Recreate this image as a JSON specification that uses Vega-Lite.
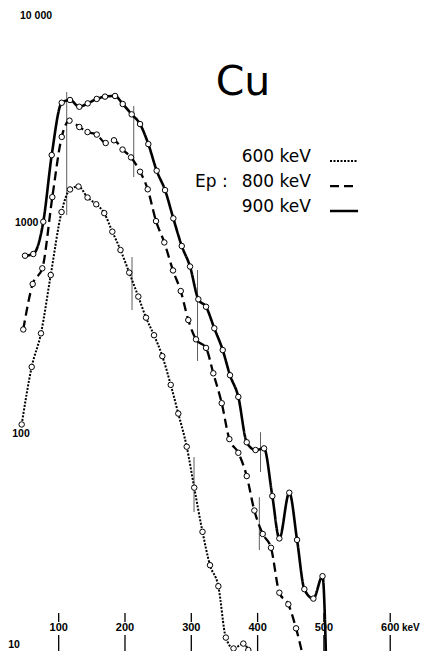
{
  "$schema": "https://vega.github.io/schema/vega-lite/v6.json",
  "width": 431,
  "height": 651,
  "autosize": {"type": "none"},
  "padding": 0,
  "background": "white",
  "config": {"view": {"stroke": null}},
  "datasets": {
    "curves": [
      {"series": "900 keV", "E": 49.2, "v": 700},
      {"series": "900 keV", "E": 61.7, "v": 713},
      {"series": "900 keV", "E": 76.8, "v": 1014},
      {"series": "900 keV", "E": 89.5, "v": 2099},
      {"series": "900 keV", "E": 104.6, "v": 3715},
      {"series": "900 keV", "E": 117.1, "v": 3828},
      {"series": "900 keV", "E": 131.1, "v": 3556},
      {"series": "900 keV", "E": 143.8, "v": 3690},
      {"series": "900 keV", "E": 157.4, "v": 3873},
      {"series": "900 keV", "E": 169.9, "v": 3972},
      {"series": "900 keV", "E": 185, "v": 4000},
      {"series": "900 keV", "E": 196.6, "v": 3664},
      {"series": "900 keV", "E": 210.1, "v": 3273},
      {"series": "900 keV", "E": 222.7, "v": 2944},
      {"series": "900 keV", "E": 235.2, "v": 2366},
      {"series": "900 keV", "E": 247.8, "v": 1770},
      {"series": "900 keV", "E": 260.4, "v": 1432},
      {"series": "900 keV", "E": 272.9, "v": 1052},
      {"series": "900 keV", "E": 285.6, "v": 778},
      {"series": "900 keV", "E": 298.1, "v": 622},
      {"series": "900 keV", "E": 310.6, "v": 435},
      {"series": "900 keV", "E": 322.2, "v": 401},
      {"series": "900 keV", "E": 334.7, "v": 317},
      {"series": "900 keV", "E": 347.4, "v": 250},
      {"series": "900 keV", "E": 358.4, "v": 190},
      {"series": "900 keV", "E": 370.9, "v": 150},
      {"series": "900 keV", "E": 383.6, "v": 91.4},
      {"series": "900 keV", "E": 396.9, "v": 84},
      {"series": "900 keV", "E": 409.7, "v": 85.5},
      {"series": "900 keV", "E": 422.2, "v": 50.8},
      {"series": "900 keV", "E": 432.8, "v": 32},
      {"series": "900 keV", "E": 447.8, "v": 52.7},
      {"series": "900 keV", "E": 459.5, "v": 31.5},
      {"series": "900 keV", "E": 470.5, "v": 18.4},
      {"series": "900 keV", "E": 484.1, "v": 16.6},
      {"series": "900 keV", "E": 497.9, "v": 21.2},
      {"series": "900 keV", "E": 505, "v": 5},
      {"series": "800 keV", "E": 46.6, "v": 313},
      {"series": "800 keV", "E": 60.8, "v": 514},
      {"series": "800 keV", "E": 75.3, "v": 610},
      {"series": "800 keV", "E": 90.4, "v": 1327},
      {"series": "800 keV", "E": 104.6, "v": 2559},
      {"series": "800 keV", "E": 116.3, "v": 3055},
      {"series": "800 keV", "E": 131.1, "v": 2851},
      {"series": "800 keV", "E": 143.5, "v": 2698},
      {"series": "800 keV", "E": 157.4, "v": 2625},
      {"series": "800 keV", "E": 170.9, "v": 2394},
      {"series": "800 keV", "E": 183.4, "v": 2466},
      {"series": "800 keV", "E": 196.3, "v": 2229},
      {"series": "800 keV", "E": 209.1, "v": 2047},
      {"series": "800 keV", "E": 222.7, "v": 1750},
      {"series": "800 keV", "E": 234.3, "v": 1445},
      {"series": "800 keV", "E": 246.8, "v": 1021},
      {"series": "800 keV", "E": 259.3, "v": 809},
      {"series": "800 keV", "E": 272.4, "v": 596},
      {"series": "800 keV", "E": 284.1, "v": 476},
      {"series": "800 keV", "E": 295.5, "v": 347},
      {"series": "800 keV", "E": 307.1, "v": 281},
      {"series": "800 keV", "E": 322.2, "v": 256},
      {"series": "800 keV", "E": 333.2, "v": 194},
      {"series": "800 keV", "E": 345.9, "v": 140},
      {"series": "800 keV", "E": 357.4, "v": 94.6},
      {"series": "800 keV", "E": 370.9, "v": 81.5},
      {"series": "800 keV", "E": 383.6, "v": 63.2},
      {"series": "800 keV", "E": 395.1, "v": 43.4},
      {"series": "800 keV", "E": 407.7, "v": 33.6},
      {"series": "800 keV", "E": 420.2, "v": 28.9},
      {"series": "800 keV", "E": 432.8, "v": 17.7},
      {"series": "800 keV", "E": 446.3, "v": 15.6},
      {"series": "800 keV", "E": 458, "v": 12.0},
      {"series": "800 keV", "E": 470, "v": 8.4},
      {"series": "600 keV", "E": 44.2, "v": 111},
      {"series": "600 keV", "E": 59.3, "v": 208},
      {"series": "600 keV", "E": 73.3, "v": 300},
      {"series": "600 keV", "E": 88, "v": 567},
      {"series": "600 keV", "E": 104.3, "v": 1127},
      {"series": "600 keV", "E": 117.1, "v": 1442},
      {"series": "600 keV", "E": 129.9, "v": 1489},
      {"series": "600 keV", "E": 143.5, "v": 1321},
      {"series": "600 keV", "E": 156.6, "v": 1227},
      {"series": "600 keV", "E": 168.7, "v": 1114},
      {"series": "600 keV", "E": 180.9, "v": 910},
      {"series": "600 keV", "E": 193.2, "v": 745},
      {"series": "600 keV", "E": 206.4, "v": 582},
      {"series": "600 keV", "E": 220.1, "v": 448},
      {"series": "600 keV", "E": 231.7, "v": 356},
      {"series": "600 keV", "E": 243.8, "v": 294},
      {"series": "600 keV", "E": 256.3, "v": 234},
      {"series": "600 keV", "E": 269, "v": 171},
      {"series": "600 keV", "E": 280.4, "v": 125},
      {"series": "600 keV", "E": 293.1, "v": 87.1},
      {"series": "600 keV", "E": 304.4, "v": 55.7},
      {"series": "600 keV", "E": 316.9, "v": 34.4},
      {"series": "600 keV", "E": 328.2, "v": 23.9},
      {"series": "600 keV", "E": 340.8, "v": 19.0},
      {"series": "600 keV", "E": 352.1, "v": 10.85},
      {"series": "600 keV", "E": 363.7, "v": 9.63},
      {"series": "600 keV", "E": 378.5, "v": 10.16},
      {"series": "600 keV", "E": 386, "v": 9.47}
    ],
    "bars": [
      {"E": 112.1, "lo": 1091, "hi": 4178},
      {"E": 213.2, "lo": 1652, "hi": 3589},
      {"E": 210.6, "lo": 387, "hi": 690},
      {"E": 309.4, "lo": 222, "hi": 599},
      {"E": 304.1, "lo": 42.7, "hi": 77.8},
      {"E": 404.4, "lo": 66.1, "hi": 102},
      {"E": 402.6, "lo": 28.2, "hi": 50.2}
    ],
    "ticks": [
      {"E": 100, "label": "100"},
      {"E": 200, "label": "200"},
      {"E": 300, "label": "300"},
      {"E": 400, "label": "400"},
      {"E": 500, "label": "500"},
      {"E": 600, "label": "600"}
    ]
  },
  "layer": [
    {
      "data": {"name": "ticks"},
      "mark": {"type": "rule", "color": "black", "strokeWidth": 1.3},
      "encoding": {
        "x": {"field": "E", "type": "quantitative", "scale": {"domain": [11.5, 661.5], "nice": false, "zero": false}, "axis": null},
        "y": {"datum": 14.2, "type": "quantitative", "scale": {"type": "log", "domain": [9.37, 11400], "nice": false}, "axis": null},
        "y2": {"datum": 12.85}
      }
    },
    {
      "data": {"name": "ticks"},
      "mark": {"type": "rule", "color": "black", "strokeWidth": 1.3},
      "encoding": {
        "x": {"field": "E", "type": "quantitative", "scale": {"domain": [11.5, 661.5], "nice": false, "zero": false}, "axis": null},
        "y": {"datum": 11.15, "type": "quantitative", "scale": {"type": "log", "domain": [9.37, 11400], "nice": false}, "axis": null},
        "y2": {"datum": 9.37}
      }
    },
    {
      "data": {"name": "ticks"},
      "mark": {"type": "text", "font": "Liberation Sans", "fontWeight": "bold", "fontSize": 11, "align": "center", "baseline": "middle", "color": "black"},
      "encoding": {
        "x": {"field": "E", "type": "quantitative", "scale": {"domain": [11.5, 661.5], "nice": false, "zero": false}, "axis": null},
        "y": {"datum": 12.0, "type": "quantitative", "scale": {"type": "log", "domain": [9.37, 11400], "nice": false}, "axis": null},
        "text": {"field": "label"}
      }
    },
    {
      "data": {"values": [{"t": "keV"}]},
      "mark": {"type": "text", "font": "Liberation Sans", "fontWeight": "bold", "fontSize": 10, "align": "center", "baseline": "middle", "color": "black"},
      "encoding": {
        "x": {"datum": 631, "type": "quantitative", "scale": {"domain": [11.5, 661.5], "nice": false, "zero": false}, "axis": null},
        "y": {"datum": 12.0, "type": "quantitative", "scale": {"type": "log", "domain": [9.37, 11400], "nice": false}, "axis": null},
        "text": {"field": "t"}
      }
    },
    {
      "data": {"name": "bars"},
      "mark": {"type": "rule", "color": "#333333", "strokeWidth": 0.8},
      "encoding": {
        "x": {"field": "E", "type": "quantitative", "scale": {"domain": [11.5, 661.5], "nice": false, "zero": false}, "axis": null},
        "y": {"field": "lo", "type": "quantitative", "scale": {"type": "log", "domain": [9.37, 11400], "nice": false}, "axis": null},
        "y2": {"field": "hi"}
      }
    },
    {
      "data": {"name": "curves"},
      "mark": {"type": "line", "interpolate": "monotone", "clip": true, "color": "black"},
      "encoding": {
        "x": {"field": "E", "type": "quantitative", "scale": {"domain": [11.5, 661.5], "nice": false, "zero": false}, "axis": null},
        "y": {"field": "v", "type": "quantitative", "scale": {"type": "log", "domain": [9.37, 11400], "nice": false}, "axis": null},
        "detail": {"field": "series", "type": "nominal"},
        "strokeDash": {"field": "series", "type": "nominal", "scale": {"domain": ["600 keV", "800 keV", "900 keV"], "range": [[2, 1.5], [9, 5], [1, 0]]}, "legend": null},
        "strokeWidth": {"field": "series", "type": "ordinal", "scale": {"domain": ["600 keV", "800 keV", "900 keV"], "range": [2, 2.6, 2.6]}, "legend": null}
      }
    },
    {
      "data": {"name": "curves"},
      "mark": {"type": "point", "shape": "circle", "filled": true, "fill": "white", "stroke": "black", "strokeWidth": 1, "size": 30, "opacity": 1, "fillOpacity": 1, "strokeOpacity": 1, "clip": true},
      "encoding": {
        "x": {"field": "E", "type": "quantitative", "scale": {"domain": [11.5, 661.5], "nice": false, "zero": false}, "axis": null},
        "y": {"field": "v", "type": "quantitative", "scale": {"type": "log", "domain": [9.37, 11400], "nice": false}, "axis": null}
      }
    },
    {
      "data": {"values": [
        {"E": 65.8, "v": 9594, "t": "10 000", "a": "center"},
        {"E": 69.3, "v": 1000, "t": "1000", "a": "right"},
        {"E": 43.2, "v": 100, "t": "100", "a": "center"},
        {"E": 32.6, "v": 10, "t": "10", "a": "center"}
      ]},
      "mark": {"type": "text", "font": "Liberation Sans", "fontWeight": "bold", "fontSize": 10.5, "baseline": "middle", "color": "black", "align": {"expr": "datum.a"}},
      "encoding": {
        "x": {"field": "E", "type": "quantitative", "scale": {"domain": [11.5, 661.5], "nice": false, "zero": false}, "axis": null},
        "y": {"field": "v", "type": "quantitative", "scale": {"type": "log", "domain": [9.37, 11400], "nice": false}, "axis": null},
        "text": {"field": "t"}
      }
    },
    {
      "data": {"values": [{"t": "Cu"}]},
      "mark": {"type": "text", "font": "DejaVu Sans", "fontSize": 41, "align": "center", "baseline": "middle", "color": "black"},
      "encoding": {
        "x": {"datum": 378, "type": "quantitative", "scale": {"domain": [11.5, 661.5], "nice": false, "zero": false}, "axis": null},
        "y": {"datum": 4613, "type": "quantitative", "scale": {"type": "log", "domain": [9.37, 11400], "nice": false}, "axis": null},
        "text": {"field": "t"}
      }
    },
    {
      "data": {"values": [
        {"series": "600 keV", "v": 2056},
        {"series": "800 keV", "v": 1563},
        {"series": "900 keV", "v": 1191}
      ]},
      "mark": {"type": "text", "font": "DejaVu Sans", "fontSize": 17, "align": "left", "baseline": "middle", "color": "black"},
      "encoding": {
        "x": {"datum": 376, "type": "quantitative", "scale": {"domain": [11.5, 661.5], "nice": false, "zero": false}, "axis": null},
        "y": {"field": "v", "type": "quantitative", "scale": {"type": "log", "domain": [9.37, 11400], "nice": false}, "axis": null},
        "text": {"field": "series"}
      }
    },
    {
      "data": {"values": [{"t": "Ep :"}]},
      "mark": {"type": "text", "font": "DejaVu Sans", "fontSize": 17, "align": "left", "baseline": "middle", "color": "black"},
      "encoding": {
        "x": {"datum": 305.6, "type": "quantitative", "scale": {"domain": [11.5, 661.5], "nice": false, "zero": false}, "axis": null},
        "y": {"datum": 1563, "type": "quantitative", "scale": {"type": "log", "domain": [9.37, 11400], "nice": false}, "axis": null},
        "text": {"field": "t"}
      }
    },
    {
      "data": {"values": [
        {"series": "600 keV", "v": 1968},
        {"series": "800 keV", "v": 1496},
        {"series": "900 keV", "v": 1140}
      ]},
      "mark": {"type": "rule", "color": "black"},
      "encoding": {
        "x": {"datum": 509.2, "type": "quantitative", "scale": {"domain": [11.5, 661.5], "nice": false, "zero": false}, "axis": null},
        "x2": {"datum": 551.5},
        "y": {"field": "v", "type": "quantitative", "scale": {"type": "log", "domain": [9.37, 11400], "nice": false}, "axis": null},
        "strokeDash": {"field": "series", "type": "nominal", "scale": {"domain": ["600 keV", "800 keV", "900 keV"], "range": [[2, 1.5], [9, 5], [1, 0]]}, "legend": null},
        "strokeWidth": {"field": "series", "type": "ordinal", "scale": {"domain": ["600 keV", "800 keV", "900 keV"], "range": [2, 2.6, 2.6]}, "legend": null}
      }
    }
  ]
}
